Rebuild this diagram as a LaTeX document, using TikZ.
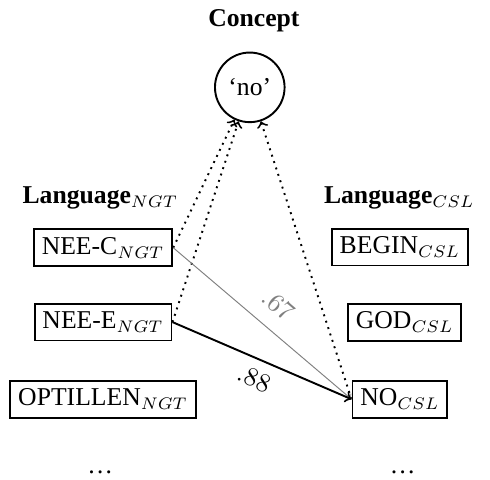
\documentclass[tikz,border=0pt]{standalone}
\usepackage[no-math]{fontspec}
\setmainfont{Liberation Serif}
\usetikzlibrary{positioning,calc}

\tikzset{
    lexbox/.style={draw,thick,inner xsep=3.3pt,minimum height=0.52cm},
    conceptnode/.style={draw,thick,circle,minimum size=1.02cm,inner sep=0pt},
    head/.style={font=\fontsize{10.7pt}{13pt}\selectfont\bfseries},
    link/.style={dotted,thick,->}
}

\begin{document}
\begin{tikzpicture}[scale=1.0,font=\fontsize{10.7pt}{13pt}\selectfont]
    \useasboundingbox (0,0) rectangle (7.18,7.02);
    \node[head] (concepthead) at (3.72,6.72) {Concept};
    \node[conceptnode] (concept) at (3.66,5.74) {‘no’};
    \node (langngt) at (1.47,4.12) {\textbf{Language}$_{NGT}$};
    \node (langcsl) at (5.85,4.12) {\textbf{Language}$_{CSL}$};
    % NGT signs
    \node[lexbox] (neec) at (1.51,3.39) {NEE-C$_{NGT}$};
    \node[lexbox] (neee) at (1.51,2.30) {NEE-E$_{NGT}$};
    \node[lexbox] (optillen) at (1.51,1.17) {OPTILLEN$_{NGT}$};
    \node (dotsngt) at (1.47,0.10) {\dots};
    % CSL signs
    \node[lexbox] (begin) at (5.86,3.40) {BEGIN$_{CSL}$};
    \node[lexbox] (god) at (5.93,2.30) {GOD$_{CSL}$};
    \node[lexbox] (no) at (5.86,1.17) {NO$_{CSL}$};
    \node (dotscsl) at (5.90,0.10) {\dots};
    % links
    \draw[link] (neec.east) -- (concept);
    \draw[link] (neee.east) -- (concept);
    \draw[link] (no.west) -- (concept);
    \draw[->,gray] (neec.east) -- node[sloped,above=3pt,pos=0.5] {$.67$} (no.west);
    \draw[->,thick] (neee.east) -- node[sloped,below=1pt] {$.88$} (no.west);
\end{tikzpicture}
\end{document}
